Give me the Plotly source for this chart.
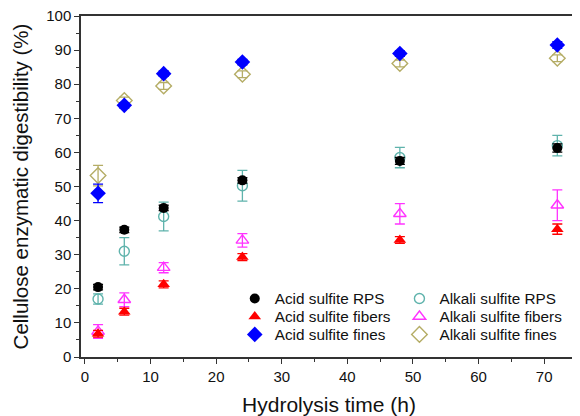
import plotly.graph_objects as go

time_h = [2, 6, 12, 24, 48, 72]

acid_rps = [20.5, 37.3, 43.7, 51.8, 57.5, 61.3]
acid_rps_err = [0.8, 0.8, 0.8, 0.8, 1.0, 1.2]
alkali_rps = [17.0, 31.0, 41.2, 50.2, 58.5, 62.0]
alkali_rps_err = [1.5, 4.0, 4.2, 4.5, 3.0, 3.0]

acid_fibers = [6.8, 13.3, 21.3, 29.3, 34.3, 37.5]
acid_fibers_err = [1.0, 1.0, 1.0, 1.0, 1.0, 1.5]
alkali_fibers = [7.5, 16.8, 26.2, 34.2, 42.0, 44.5]
alkali_fibers_err = [2.0, 2.0, 1.5, 2.0, 3.0, 4.5]

acid_fines = [48.0, 73.8, 83.1, 86.5, 89.0, 91.5]
acid_fines_err = [2.7, 0.8, 0.8, 0.8, 0.8, 1.0]
alkali_fines = [53.2, 75.2, 79.5, 82.9, 86.1, 87.6]
alkali_fines_err = [3.0, 1.0, 1.0, 1.0, 1.0, 1.0]

TEAL = "#5fb3ac"
MAGENTA = "#ff33ff"
OLIVE = "#b5ad66"
RED = "#ff0000"
BLUE = "#0000ff"
BLACK = "#000000"

FONT = "Liberation Sans, Arial, sans-serif"

fig = go.Figure()

def add(name, y, err, symbol, color, legend, size, open_marker):
    fig.add_trace(go.Scatter(
        x=time_h, y=y, mode="markers", name=name, legend=legend,
        marker=dict(symbol=symbol, size=size, color=color,
                    line=dict(color=color, width=1.4 if open_marker else 0)),
        error_y=dict(type="data", array=err, visible=True, color=color,
                     thickness=1.3, width=5),
    ))

# alkali drawn first (underneath)
add("Alkali sulfite RPS", alkali_rps, alkali_rps_err, "circle-open", TEAL, "legend2", 10, True)
add("Alkali sulfite fibers", alkali_fibers, alkali_fibers_err, "triangle-up-open", MAGENTA, "legend4", 11, True)
add("Alkali sulfite fines", alkali_fines, alkali_fines_err, "diamond-open", OLIVE, "legend6", 12, True)
add("Acid sulfite RPS", acid_rps, acid_rps_err, "circle", BLACK, "legend", 10, False)
add("Acid sulfite fibers", acid_fibers, acid_fibers_err, "triangle-up", RED, "legend3", 11, False)
add("Acid sulfite fines", acid_fines, acid_fines_err, "diamond", BLUE, "legend5", 12, False)

axis_common = dict(
    showline=True, linecolor="#333333", linewidth=1.5, mirror=True,
    ticks="outside", ticklen=5, tickwidth=1.3, tickcolor="#333333",
    showgrid=False, zeroline=False, automargin=False,
    ticklabeloverflow="allow",
    tickfont=dict(family=FONT, size=15, color="#111111"),
)

fig.update_xaxes(
    range=[-0.6, 75], dtick=10, tick0=0,
    minor=dict(dtick=5, ticks="outside", ticklen=3, tickcolor="#333333", tickwidth=1.2),
    title=dict(text="Hydrolysis time (h)", font=dict(family=FONT, size=21, color="#111111"), standoff=24),
    **axis_common,
)
fig.update_yaxes(
    range=[0, 100], dtick=10, tick0=0,
    minor=dict(dtick=5, ticks="outside", ticklen=3, tickcolor="#333333", tickwidth=1.2),
    title=dict(text="Cellulose enzymatic digestibility (%)", font=dict(family=FONT, size=20.5, color="#111111"), standoff=12),
    **axis_common,
)

legend_common = dict(
    font=dict(family=FONT, size=15.3, color="#111111"),
    bgcolor="rgba(0,0,0,0)", borderwidth=0,
    yanchor="top", xanchor="left", orientation="v",
    itemclick=False,
)

col1_x = 0.31
col2_x = 0.642
row_y = [0.22, 0.167, 0.1145]

# the page body adds an 8px offset, so the figure is sized to fit the window
fig.update_layout(
    width=572, height=408,
    margin=dict(l=73, r=3, t=8, b=59),
    paper_bgcolor="white", plot_bgcolor="white",
    showlegend=True,
    legend=dict(x=col1_x, y=row_y[0], **legend_common),
    legend2=dict(x=col2_x, y=row_y[0], **legend_common),
    legend3=dict(x=col1_x, y=row_y[1], **legend_common),
    legend4=dict(x=col2_x, y=row_y[1], **legend_common),
    legend5=dict(x=col1_x, y=row_y[2], **legend_common),
    legend6=dict(x=col2_x, y=row_y[2], **legend_common),
)

fig.write_html("out.html")
